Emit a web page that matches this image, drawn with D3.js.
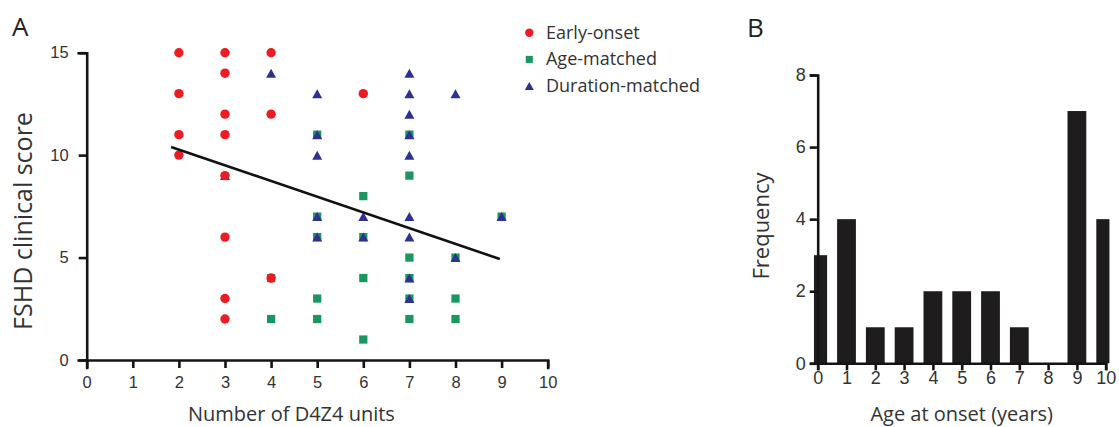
<!DOCTYPE html>
<html>
<head>
<meta charset="utf-8">
<script src="https://cdn.jsdelivr.net/npm/d3@7"></script>
<style>
  body { margin: 0; background: #fff; }
  svg { display: block; font-family: "Open Sans", sans-serif; }
  .axis path, .axis line { stroke: #141414; stroke-width: 2.6; }
  .axis text { fill: #333; }
</style>
</head>
<body>
<div id="chart"></div>
<script>
// panel A: FSHD score vs D4Z4 units
const earlyOnset = [[2,15],[2,13],[2,11],[2,10],[3,15],[3,14],[3,12],[3,11],[3,9],[3,6],[3,3],[3,2],[4,15],[4,12],[4,4],[6,13]];
const ageMatched = [[4,4],[4,2],[5,11],[5,7],[5,6],[5,3],[5,2],[6,8],[6,6],[6,4],[6,1],[7,11],[7,9],[7,5],[7,4],[7,3],[7,2],[8,5],[8,3],[8,2],[9,7]];
const durationMatched = [[3,9],[4,14],[5,13],[5,11],[5,10],[5,7],[5,6],[6,7],[6,6],[7,14],[7,13],[7,12],[7,11],[7,10],[7,7],[7,6],[7,4],[7,3],[8,13],[8,5],[9,7]];
const fitLine = [[1.83,10.4],[8.96,4.93]];
const scatterXTicks = [0,1,2,3,4,5,6,7,8,9,10];
const scatterYTicks = [0,5,10,15];
const seriesNames = ["Early-onset","Age-matched","Duration-matched"];

// panel B: histogram of age at onset
const onsetAges = [0,1,2,3,4,5,6,7,8,9,10];
const onsetFreq = [3,4,1,1,2,2,2,1,0,7,4];
const histYTicks = [0,2,4,6,8];

const red = "#ec1c24", green = "#1a9660", blue = "#2e3192";

const svg = d3.select("#chart").append("svg")
  .attr("width", 1119).attr("height", 427);

/* ---- panel A ---- */
const x = d3.scaleLinear().domain([0, 10]).range([86.7, 547.7]);
const y = d3.scaleLinear().domain([0, 15]).range([360, 52.7]);

svg.append("g").attr("class", "axis")
  .attr("transform", "translate(0,360)")
  .call(d3.axisBottom(x).tickValues(scatterXTicks).tickSizeOuter(0).tickSize(8).tickPadding(8))
  .call(g => g.selectAll("text").attr("font-size", 16.5));

svg.append("g").attr("class", "axis")
  .attr("transform", "translate(86.7,0)")
  .call(d3.axisLeft(y).tickValues(scatterYTicks).tickSizeOuter(0).tickSize(8).tickPadding(10))
  .call(g => g.selectAll("text").attr("font-size", 16.5));

svg.selectAll(".axis path.domain").attr("stroke-linecap", "square");

const tri = (w, h) => `M0,${-h/2}L${w/2},${h/2}L${-w/2},${h/2}Z`;

svg.append("g").selectAll("path")
  .data(ageMatched).join("path")
  .attr("d", d3.symbol(d3.symbolSquare, 68))
  .attr("transform", d => `translate(${x(d[0])},${y(d[1])})`)
  .attr("fill", green);

svg.append("g").selectAll("path")
  .data(durationMatched).join("path")
  .attr("d", tri(10, 9))
  .attr("transform", d => `translate(${x(d[0])},${y(d[1])})`)
  .attr("fill", blue);

svg.append("g").selectAll("circle")
  .data(earlyOnset).join("circle")
  .attr("cx", d => x(d[0])).attr("cy", d => y(d[1]))
  .attr("r", 4.7)
  .attr("fill", red);

svg.append("path")
  .datum(fitLine)
  .attr("d", d3.line(d => x(d[0]), d => y(d[1])))
  .attr("stroke", "#111").attr("stroke-width", 2.6).attr("fill", "none");

// legend
const legend = svg.append("g").attr("transform", "translate(529.3,32.7)");
seriesNames.forEach((name, i) => {
  const row = legend.append("g").attr("transform", `translate(0,${i * 26.7})`);
  if (i === 0) row.append("circle").attr("r", 4.2).attr("fill", red);
  if (i === 1) row.append("path").attr("d", d3.symbol(d3.symbolSquare, 50)).attr("fill", green);
  if (i === 2) row.append("path").attr("d", tri(9, 8)).attr("fill", blue);
  row.append("text").attr("x", 16.7).attr("y", 5.8)
    .attr("font-size", 18).attr("fill", "#333").text(name);
});

svg.append("text").attr("x", 188).attr("y", 420.5)
  .attr("font-size", 20).attr("fill", "#333").text("Number of D4Z4 units");

svg.append("text").attr("transform", "translate(31.5,221) rotate(-90)")
  .attr("text-anchor", "middle").attr("font-size", 25).attr("fill", "#333")
  .text("FSHD clinical score");

svg.append("text").attr("x", 12).attr("y", 36)
  .attr("font-size", 26).attr("fill", "#222").text("A");

/* ---- panel B ---- */
const hx = d3.scaleLinear().domain([0, 10]).range([817.7, 1105.7]);
const hy = d3.scaleLinear().domain([0, 8]).range([363.3, 75]);
const barW = 18.8;

svg.append("clipPath").attr("id", "histclip")
  .append("rect")
  .attr("x", hx(-0.13)).attr("y", 0)
  .attr("width", hx(10.13) - hx(-0.13)).attr("height", 427);

svg.append("g").attr("clip-path", "url(#histclip)")
  .selectAll("rect")
  .data(onsetAges.map((a, i) => ({age: a, freq: onsetFreq[i]})))
  .join("rect")
  .attr("x", d => hx(d.age) - barW / 2)
  .attr("y", d => hy(d.freq))
  .attr("width", barW)
  .attr("height", d => hy(0) - hy(d.freq))
  .attr("fill", "#1e1c1c");

svg.append("g").attr("class", "axis")
  .attr("transform", "translate(0,363.3)")
  .call(d3.axisBottom(hx).tickValues(onsetAges).tickSizeOuter(0).tickSize(7).tickPadding(1))
  .call(g => g.selectAll("text").attr("font-size", 18));

svg.append("g").attr("class", "axis")
  .attr("transform", "translate(817.7,0)")
  .call(d3.axisLeft(hy).tickValues(histYTicks).tickSizeOuter(0).tickSize(8).tickPadding(4))
  .call(g => g.selectAll("text").attr("font-size", 18));

svg.append("text").attr("x", 961.7).attr("y", 420.5)
  .attr("text-anchor", "middle").attr("font-size", 20).attr("fill", "#333")
  .text("Age at onset (years)");

svg.append("text").attr("transform", "translate(768.5,226) rotate(-90)")
  .attr("text-anchor", "middle").attr("font-size", 22).attr("fill", "#333")
  .text("Frequency");

svg.append("text").attr("x", 747).attr("y", 37)
  .attr("font-size", 26).attr("fill", "#222").text("B");
</script>
</body>
</html>
